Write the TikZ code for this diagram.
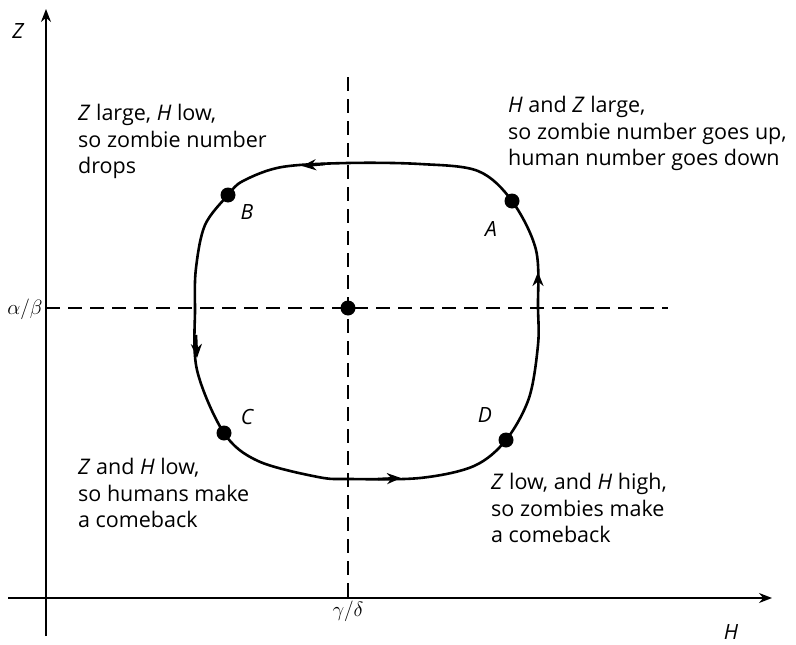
\documentclass[tikz,border=0pt]{standalone}
\usepackage{fontspec}
\setmainfont{Open Sans}
\usetikzlibrary{arrows.meta}
\begin{document}
\begin{tikzpicture}[x=1pt,y=-1pt,
  axis/.style={line width=1.4pt,-{Stealth[length=13pt,width=10pt]}},
  guide/.style={line width=1.2pt,dash pattern=on 14pt off 8pt},
  orbit/.style={line width=2.6pt},
  flow/.style={line width=2.6pt,-{Stealth[length=14pt,width=11pt]}},
  dot/.style={circle,fill=black,inner sep=0pt,minimum size=15pt},
  ptlabel/.style={font=\fontsize{21}{24}\selectfont\itshape,inner sep=0pt},
  note/.style={font=\fontsize{21.5}{26.5}\selectfont,align=left,anchor=north west,inner sep=0pt},
  mathlabel/.style={font=\fontsize{21}{24}\selectfont,inner sep=0pt}
]
\useasboundingbox (0,0) rectangle (796,645);
% axes
\coordinate (yb) at (46,636);
\coordinate (yt) at (46,9);
\coordinate (xl) at (8,598);
\coordinate (xr) at (772,598);
\draw[axis] (yb) -- (yt);
\draw[axis] (xl) -- (xr);
\node[mathlabel,font=\fontsize{21}{24}\selectfont\itshape] (zl) at (18,31) {Z};
\node[mathlabel,font=\fontsize{21}{24}\selectfont\itshape] (hl) at (731,632) {H};
\node[mathlabel] (ab) at (25,309) {$\alpha/\beta$};
\node[mathlabel] (gd) at (348,611) {$\gamma/\delta$};
% dashed guides
\coordinate (hg1) at (46,308);
\coordinate (hg2) at (668,308);
\coordinate (vg1) at (348,77);
\coordinate (vg2) at (348,598);
\draw[guide] (hg1) -- (hg2);
\draw[guide] (vg1) -- (vg2);
% orbit
\draw[orbit] plot[smooth cycle,tension=0.55] coordinates {
 (538,308) (536,250) (512,201) (478,171) (420,164) (348,163) (282,167) (243,181) (228,195)
 (205,225) (196,268) (195,308) (197,370) (224,433) (258,461) (318,477) (350,479)
 (420,478) (474,466) (506,440) (529,398) (538,345)};
% direction arrows
\coordinate (r1) at (538,296); \coordinate (r2) at (538,272);
\coordinate (t1) at (325,164); \coordinate (t2) at (302,166);
\coordinate (l1) at (196,335); \coordinate (l2) at (197,358);
\coordinate (b1) at (378,479); \coordinate (b2) at (401,478);
\draw[flow] (r1) -- (r2);
\draw[flow] (t1) -- (t2);
\draw[flow] (l1) -- (l2);
\draw[flow] (b1) -- (b2);
% points
\node[dot] (C0) at (348,308) {};
\node[dot] (A) at (512,201) {};
\node[dot] (B) at (228,195) {};
\node[dot] (C) at (224,433) {};
\node[dot] (D) at (506,440) {};
\node[ptlabel] (Al) at (491,229) {A};
\node[ptlabel] (Bl) at (247,212) {B};
\node[ptlabel] (Cl) at (247,417) {C};
\node[ptlabel] (Dl) at (485,415) {D};
% notes
\node[note] (nB) at (78,104) {\textit{Z} large, \textit{H} low,\\so zombie number\\drops};
\node[note] (nA) at (508,96) {\textit{H} and \textit{Z} large,\\so zombie number goes up,\\human number goes down};
\node[note] (nC) at (78,458) {\textit{Z} and \textit{H} low,\\so humans make\\a comeback};
\node[note] (nD) at (491,473) {\textit{Z} low, and \textit{H} high,\\so zombies make\\a comeback};
\end{tikzpicture}
\end{document}
